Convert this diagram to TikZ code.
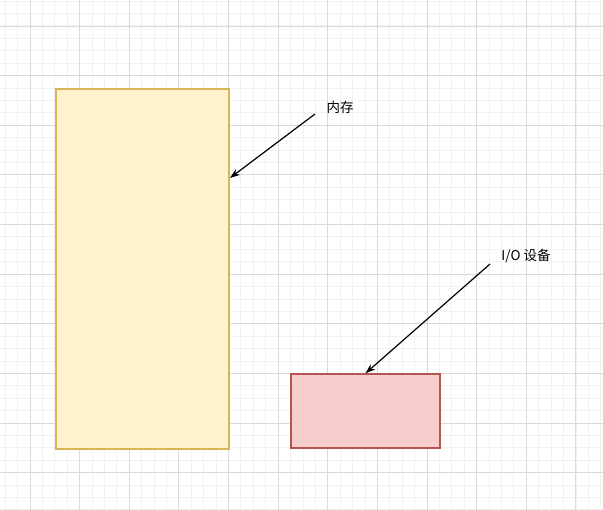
\documentclass[tikz,border=0pt]{standalone}
\usepackage{fontspec}
\usepackage{xcolor}
\usetikzlibrary{positioning, arrows.meta}
\newfontfamily\cjkfont{Noto Sans CJK SC}
\definecolor{minorgrid}{HTML}{F1F1F1}
\definecolor{majorgrid}{HTML}{DADADA}
\definecolor{memfill}{HTML}{FFF2CC}
\definecolor{memline}{HTML}{D6B656}
\definecolor{iofill}{HTML}{F8CECC}
\definecolor{ioline}{HTML}{B85450}

\begin{document}
\begin{tikzpicture}[x=1pt, y=-1pt, font=\cjkfont\fontsize{13.5}{15}\selectfont,
  block/.style={draw, line width=1.3pt, minimum width=#1, inner sep=0pt},
  label/.style={inner sep=1pt, anchor=center},
  pointer/.style={-{Stealth[length=10pt, width=7pt]}, line width=1.2pt, black}
]
  \useasboundingbox (0,0) rectangle (603,510);
  \fill[white] (0,0) rectangle (603,510);

  % grid
  \foreach \i in {-2,...,48} {
    \draw[minorgrid, line width=1pt] (30+12.41*\i,0) -- (30+12.41*\i,510);
  }
  \foreach \i in {-2,...,40} {
    \draw[minorgrid, line width=1pt] (0,26+12.41*\i) -- (603,26+12.41*\i);
  }
  \foreach \i in {0,...,11} {
    \draw[majorgrid, line width=0.9pt] (30+49.63*\i,0) -- (30+49.63*\i,510);
  }
  \foreach \i in {0,...,9} {
    \draw[majorgrid, line width=0.9pt] (0,26+49.63*\i) -- (603,26+49.63*\i);
  }

  \node[block=173pt, minimum height=360pt, draw=memline, fill=memfill] (memory) at (142.5,269) {};
  \node[block=149pt, minimum height=74pt, draw=ioline, fill=iofill] (io) at (365.5,411) {};

  \node[label] (memlabel) at (340,107) {内存};
  \node[label] (iolabel) at (526,256) {I/O 设备};

  \coordinate (memtail) at (315,114);
  \coordinate (memhead) at (230,178);
  \coordinate (iotail) at (490,264);

  \draw[pointer] (memtail) -- (memhead);
  \draw[pointer] (iotail) -- (io.north);
\end{tikzpicture}
\end{document}
